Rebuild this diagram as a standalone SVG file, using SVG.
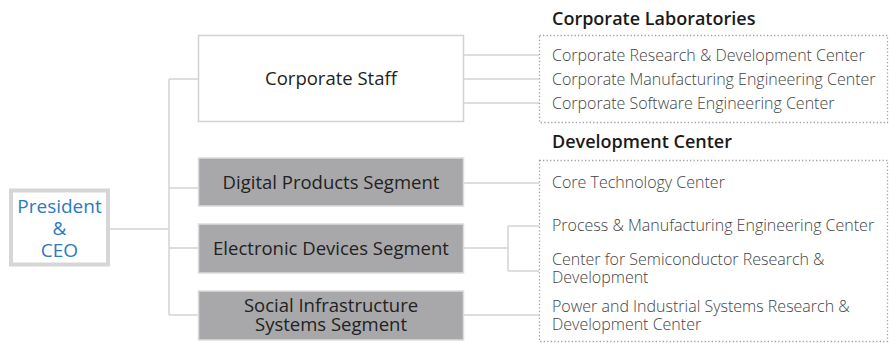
<svg xmlns="http://www.w3.org/2000/svg" width="889" height="343" viewBox="0 0 889 343">
<style>
.conn{stroke:#d4d4d4;stroke-width:1.5;fill:none}
.dot{fill:none;stroke:#a0a0a0;stroke-width:1.3;stroke-dasharray:1.3 2.2}
.wbox{fill:#ffffff;stroke:#d2d2d2;stroke-width:1.5}
.gbox{fill:#a8a8aa;stroke:#dcdcdc;stroke-width:1.5}
.seg{font-family:"Open Sans","Liberation Sans",sans-serif;font-size:18.5px;font-weight:500;fill:#222;text-anchor:middle}
.title{font-family:"Open Sans","Liberation Sans",sans-serif;font-size:18px;font-weight:600;fill:#1a1a1a}
.item{font-family:"Open Sans","Liberation Sans",sans-serif;font-size:16px;font-weight:300;fill:#444}
.ceo{font-family:"Open Sans","Liberation Sans",sans-serif;font-size:19px;font-weight:500;fill:#2a7bbf;text-anchor:middle}
</style>
<g id="connectors">
<path class="conn" d="M110 229H169M169 79V315M169 79H198M169 188H198M169 248H198M169 315H198"/>
<path class="conn" d="M464 55H539M464 79H539M464 103H539M464 183H539M464 248H508M508 226V271M508 226H539M508 271H539M464 315H539"/>
</g>
<g id="president">
<rect x="11" y="190.5" width="97" height="74" fill="#fff" stroke="#d6d6d6" stroke-width="4"/>
<text class="ceo" x="59.5" y="213">President</text>
<text class="ceo" x="59.5" y="235">&amp;</text>
<text class="ceo" x="59.5" y="257">CEO</text>
</g>
<g id="corporate-staff">
<rect class="wbox" x="198.5" y="35.5" width="265" height="86"/>
<text class="seg" x="331" y="85">Corporate Staff</text>
</g>
<g id="digital-products">
<rect class="gbox" x="198.5" y="158" width="265" height="48"/>
<text class="seg" x="331" y="189">Digital Products Segment</text>
</g>
<g id="electronic-devices">
<rect class="gbox" x="198.5" y="224" width="265" height="49"/>
<text class="seg" x="331" y="255">Electronic Devices Segment</text>
</g>
<g id="social-infrastructure">
<rect class="gbox" x="198.5" y="291" width="265" height="49"/>
<text class="seg" x="331" y="312">Social Infrastructure</text>
<text class="seg" x="331" y="331">Systems Segment</text>
</g>
<g id="corporate-laboratories">
<text class="title" x="552" y="25">Corporate Laboratories</text>
<rect class="dot" x="539.5" y="35.5" width="348" height="87"/>
<text class="item" x="552" y="61">Corporate Research &amp; Development Center</text>
<text class="item" x="552" y="85">Corporate Manufacturing Engineering Center</text>
<text class="item" x="552" y="109">Corporate Software Engineering Center</text>
</g>
<g id="development-center">
<text class="title" x="552" y="148">Development Center</text>
<rect class="dot" x="539.5" y="160.5" width="348" height="181"/>
<text class="item" x="552" y="188">Core Technology Center</text>
<text class="item" x="552" y="231">Process &amp; Manufacturing Engineering Center</text>
<text class="item" x="552" y="265">Center for Semiconductor Research &amp;</text>
<text class="item" x="552" y="283">Development</text>
<text class="item" x="552" y="312">Power and Industrial Systems Research &amp;</text>
<text class="item" x="552" y="330">Development Center</text>
</g>
</svg>
